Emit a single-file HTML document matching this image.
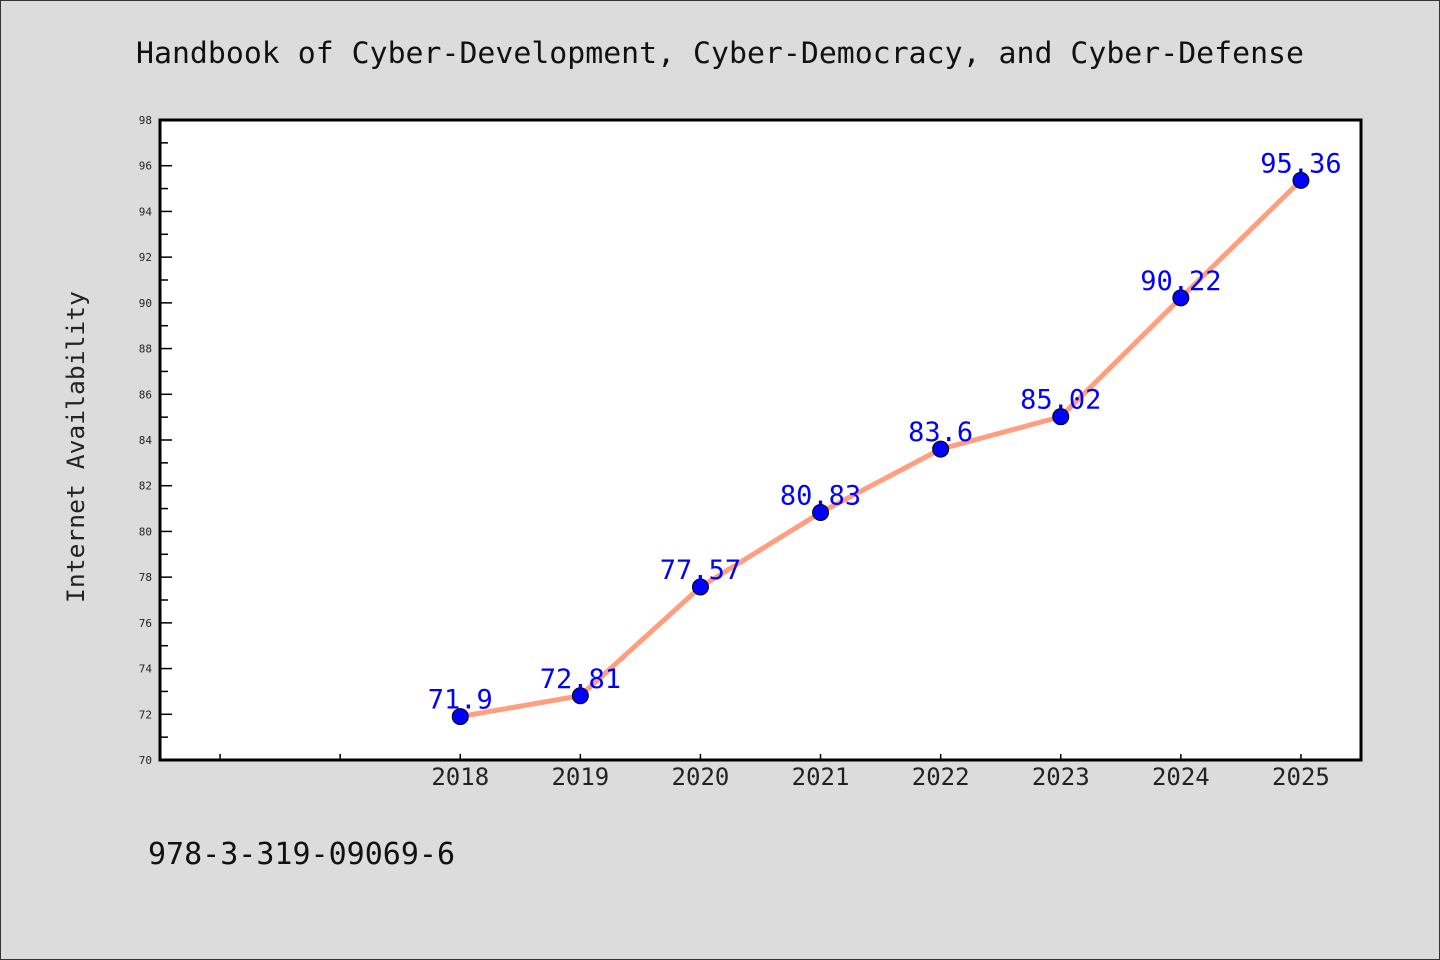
<!DOCTYPE html>
<html><head><meta charset="utf-8"><style>
html,body{margin:0;padding:0;background:#dcdcdc;}
svg{display:block;}
text{font-family:"WenQuanYi Zen Hei Mono","WenQuanYi Zen Hei","DejaVu Sans Mono","Liberation Mono",monospace;}
</style></head><body>
<svg id="chart" width="1440" height="960" xmlns="http://www.w3.org/2000/svg">
<rect x="0.5" y="0.5" width="1439" height="959" fill="#dcdcdc" stroke="#333" stroke-width="1"/>
<text x="720" y="63" font-size="29" text-anchor="middle" fill="#111" textLength="1168" lengthAdjust="spacingAndGlyphs">Handbook of Cyber-Development, Cyber-Democracy, and Cyber-Defense</text>
<rect x="160" y="120" width="1201" height="640" fill="#fff"/>
<g id="axes"></g>
<g id="series"></g>
<rect x="160" y="120" width="1201" height="640" fill="none" stroke="#000" stroke-width="3"/>
<text transform="translate(84,447) rotate(-90)" font-size="24" text-anchor="middle" fill="#222" textLength="312" lengthAdjust="spacingAndGlyphs">Internet Availability</text>
<text x="148" y="864" font-size="30" fill="#111" textLength="307" lengthAdjust="spacingAndGlyphs">978-3-319-09069-6</text>
</svg>
<script>
const years = [2018, 2019, 2020, 2021, 2022, 2023, 2024, 2025];
const values = [71.9, 72.81, 77.57, 80.83, 83.6, 85.02, 90.22, 95.36];
const valueLabels = ["71.9", "72.81", "77.57", "80.83", "83.6", "85.02", "90.22", "95.36"];
const yTicks = [70, 72, 74, 76, 78, 80, 82, 84, 86, 88, 90, 92, 94, 96, 98];
const xTickYears = [2016, 2017, 2018, 2019, 2020, 2021, 2022, 2023, 2024, 2025];

const NS = "http://www.w3.org/2000/svg";
const X0 = 160, X1 = 1361, Y0 = 760, Y1 = 120;
const xMin = 2015.5, xMax = 2025.5, yMin = 70, yMax = 98;
function xs(v){ return X0 + (v - xMin) / (xMax - xMin) * (X1 - X0); }
function ys(v){ return Y0 - (v - yMin) / (yMax - yMin) * (Y0 - Y1); }
function mk(tag, attrs, parent){
  const e = document.createElementNS(NS, tag);
  for (const k in attrs) e.setAttribute(k, attrs[k]);
  parent.appendChild(e); return e;
}
const axes = document.getElementById('axes');
const series = document.getElementById('series');

yTicks.forEach(t => {
  const y = ys(t);
  const l = mk('line', {x1: X0, x2: X0 + 12, y1: y, y2: y, stroke: '#000', 'stroke-width': 1.5}, axes);
  
  
  const tx = mk('text', {x: 152, y: y + 4, 'font-size': 11, 'text-anchor': 'end', fill: '#222'}, axes);
  tx.textContent = t;
  
  
  if (t < yMax) {
    const m = ys(t + 1);
    const ml = mk('line', {x1: X0, x2: X0 + 8, y1: m, y2: m, stroke: '#000', 'stroke-width': 1.5}, axes);
    
    
  }
});
xTickYears.forEach(yr => {
  const x = xs(yr);
  const l = mk('line', {x1: x, x2: x, y1: Y0, y2: Y0 - 6, stroke: '#000', 'stroke-width': 1.5}, axes);
  
  
});
years.forEach(yr => {
  const tx = mk('text', {x: xs(yr), y: 785, 'font-size': 24, 'text-anchor': 'middle', fill: '#222'}, axes);
  tx.textContent = yr;
  
  
});

const pts = years.map((yr, i) => xs(yr) + ',' + ys(values[i])).join(' ');
const line = mk('polyline', {points: pts, fill: 'none', stroke: '#ff9f7f', 'stroke-width': 5, 'stroke-linejoin': 'round'}, series);


years.forEach((yr, i) => {
  const c = mk('circle', {cx: xs(yr), cy: ys(values[i]), r: 8, fill: '#0000ff', stroke: '#000', 'stroke-width': 1}, series);
  
  
});
years.forEach((yr, i) => {
  const tx = mk('text', {x: xs(yr), y: ys(values[i]) - 8, 'font-size': 27, 'text-anchor': 'middle', fill: '#0000ff'}, series);
  tx.textContent = valueLabels[i];
  
  
});
</script>
</body></html>
